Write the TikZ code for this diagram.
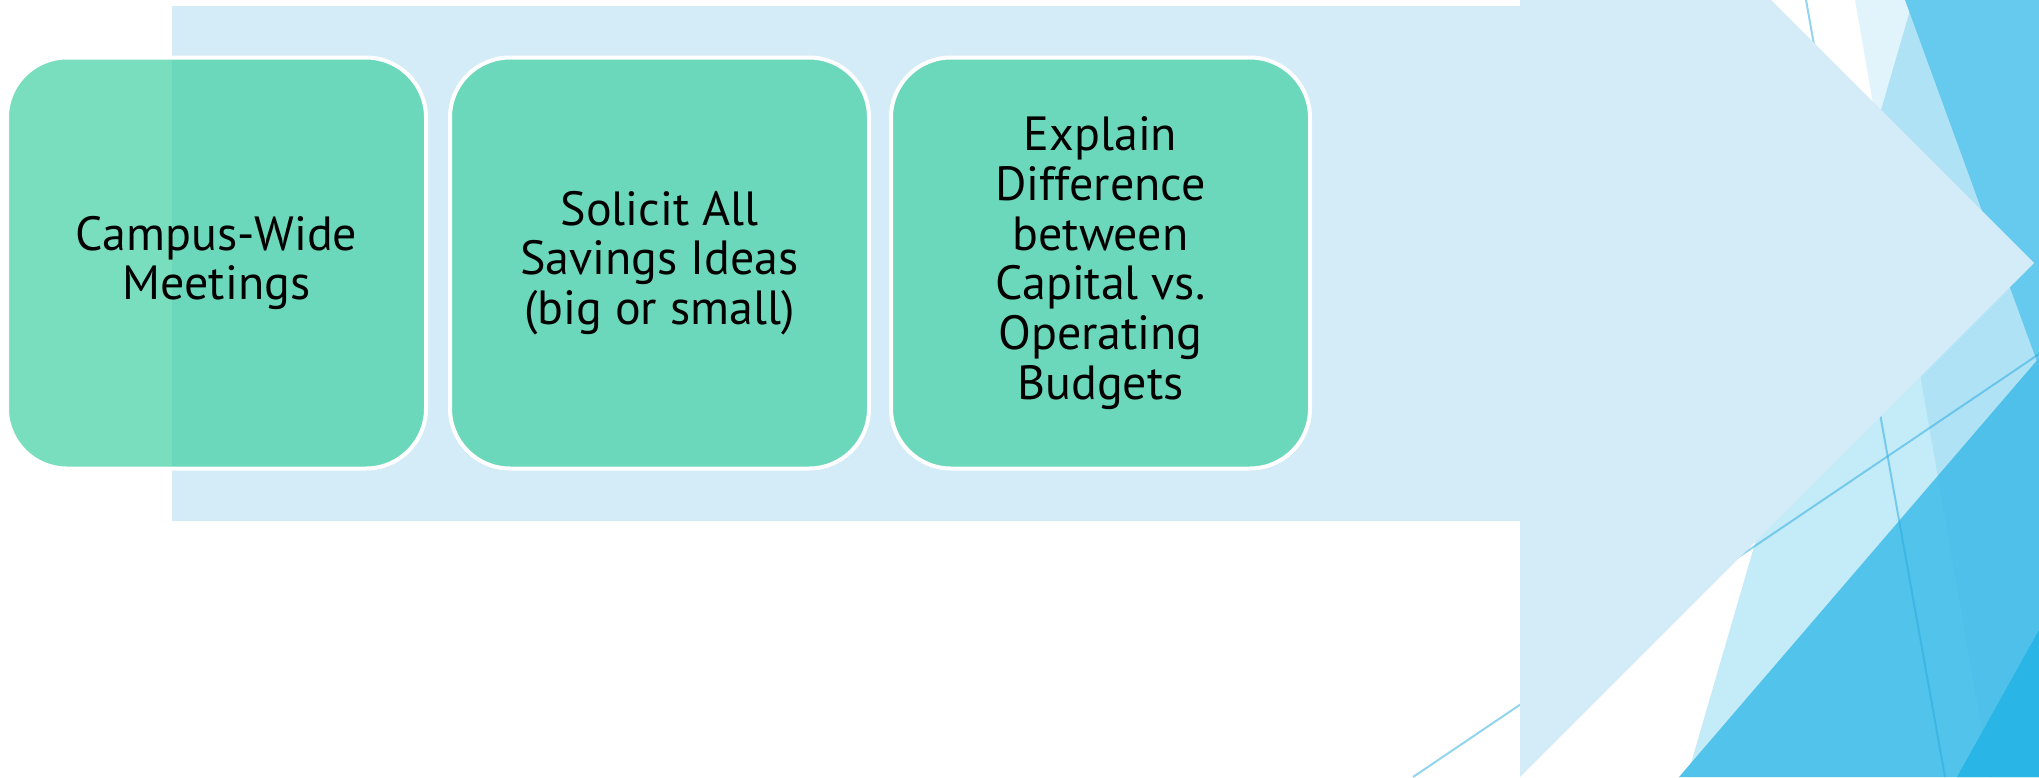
\documentclass[tikz,border=0pt]{standalone}
\usepackage{fontspec}
\setmainfont{PT Sans}
\definecolor{arrowc}{RGB}{212,235,248}
\definecolor{tone}{RGB}{196,235,248}
\definecolor{ttwo}{RGB}{109,206,239}
\definecolor{tthree}{RGB}{82,195,235}
\definecolor{tfour}{RGB}{60,180,230}
\definecolor{tfive}{RGB}{41,181,229}
\definecolor{linec}{RGB}{40,170,225}
\definecolor{boxc}{RGB}{65,208,162}
\begin{document}
\begin{tikzpicture}[x=1pt,y=-1pt,
  boxstyle/.style={draw=white, line width=4pt, fill=boxc, fill opacity=0.7,
    draw opacity=1, text opacity=1, rounded corners=60pt,
    minimum width=419pt, minimum height=411pt, inner sep=0pt,
    align=center, font=\fontsize{48}{49.8}\selectfont},
  thinline/.style={draw=linec, draw opacity=0.5, line width=2pt}]
\useasboundingbox (0,0) rectangle (2039,777);
\clip (0,0) rectangle (2039,777);
\fill[white] (0,0) rectangle (2039,777);
% background facets
\fill[tone] (1913,0) -- (2039,0) -- (2039,777) -- (1687,777) -- cycle;
\fill[ttwo] (1905,0) -- (2039,0) -- (2039,367) -- cycle;
\fill[tthree] (2039,358) -- (2039,777) -- (1679,777) -- cycle;
\fill[tfour, opacity=0.15] (1855,0) -- (2039,0) -- (2039,777) -- (1990,777) -- cycle;
\fill[tfive] (2039,630) -- (2039,777) -- (1957,777) -- cycle;
% thin lines
\coordinate (la) at (1806,0);
\coordinate (lb) at (1945,777);
\coordinate (lc) at (1413,777);
\coordinate (ld) at (2039,354);
\draw[thinline] (la) -- (lb);
\draw[thinline] (lc) -- (ld);
% big arrow
\fill[arrowc] (172,6) -- (1520,6) -- (1520,-251) -- (2034,263) -- (1520,777)
  -- (1520,521) -- (172,521) -- cycle;
% boxes
\node[boxstyle] (b1) at (216.5,263) {Campus-Wide\\Meetings};
\node[boxstyle] (b2) at (659.5,263) {Solicit All\\Savings Ideas\\(big or small)};
\node[boxstyle] (b3) at (1100.5,263) {Explain\\Difference\\between\\Capital vs.\\Operating\\Budgets};
\end{tikzpicture}
\end{document}
